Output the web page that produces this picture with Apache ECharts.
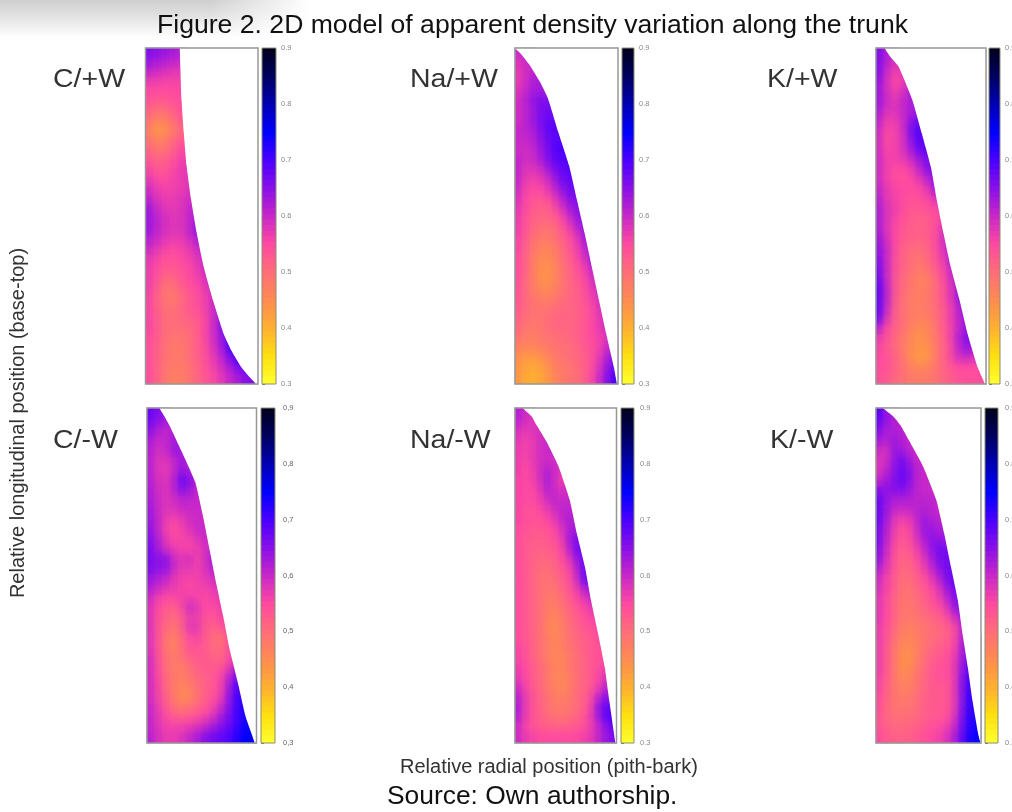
<!DOCTYPE html>
<html><head><meta charset="utf-8">
<style>html,body{margin:0;padding:0;background:#fff}#c{width:1012px;height:812px}</style>
<script src="https://cdn.jsdelivr.net/npm/echarts@6/dist/echarts.min.js"></script></head>
<body><div id="c"></div>
<script>
// apparent density x 100; rows top to base, columns pith to bark
const cPlusW=[
[66,65,64,63,62],[64,63,62,61,60],[61,60,59,58,58],[57,57,56,56,56],[55,55,55,55,55,55],[54,53,53,54,55,55],
[52,50,50,52,54,55],[50,47,47,50,53,54],[48,43,44,48,50,53],[50,46,47,50,53,54],[52,49,49,52,55,56],[54,51,52,54,56,57],
[56,53,53,55,57,58],[58,55,55,56,57,58],[60,57,56,56,57,58,59],[62,58,57,57,58,59,60],[64,60,58,57,58,60,62,62],[64,61,59,58,58,60,63,64],
[64,61,59,58,58,60,64,66],[62,60,58,57,57,59,62,64,64],[60,58,56,55,56,57,59,62,62],[58,56,54,54,55,56,58,60,62,62],[57,55,53,53,54,55,57,59,62,62],[57,54,51,51,53,55,56,58,61,62,62],
[57,53,49,49,52,54,55,57,60,62,63],[56,52,49,48,50,53,54,56,59,62,63,63],[56,52,50,49,51,53,54,56,59,63,65,65],[56,53,50,50,51,52,53,55,59,64,67,67],[56,53,50,50,50,51,52,55,59,64,68,70,70],[55,53,50,49,49,50,52,55,59,63,69,72,72],
[55,52,50,48,48,50,52,54,58,62,69,74,74],[55,52,50,48,48,50,52,54,57,60,65,70,72,72],[55,52,49,48,48,49,51,54,56,59,62,66,68,68],[55,52,49,47,47,49,51,53,55,57,60,62,65,66]];
const naPlusW=[
[60,60,60],[58,60,60],[57,59,61,61],[57,59,62,63,63],[58,60,63,63,63],[59,61,64,66,66,66],
[59,61,63,66,67,67,67],[59,61,63,66,68,68,68],[60,61,62,65,68,69,69],[60,60,61,64,67,69,69,69],[60,59,60,63,66,69,70,70],[61,59,59,62,65,68,69,70],
[61,58,58,59,62,66,68,69,69],[61,57,56,57,59,63,67,68,68],[60,56,55,55,57,60,64,67,67,67],[59,55,54,53,54,57,61,65,66,66],[58,55,53,52,52,54,58,62,65,65],[57,54,52,51,51,52,55,59,63,65,65],
[57,54,51,50,49,50,53,56,60,64,64],[56,53,50,48,48,49,52,54,57,62,65,65],[56,52,49,47,46,48,50,53,56,60,64,65],[55,52,48,46,45,47,50,52,55,58,63,65,65],[55,52,48,45,44,46,49,51,54,56,60,63,64],[55,51,48,45,44,46,49,51,53,55,58,62,63],
[54,51,48,46,45,47,49,51,52,54,57,60,62,62],[54,51,49,48,47,48,50,51,52,54,56,58,61,62],[53,51,49,49,49,50,51,51,52,53,55,58,60,61],[52,50,49,49,50,51,52,51,52,53,55,57,60,61],[51,49,48,49,50,51,51,51,52,53,55,57,59,61],[49,48,47,48,49,50,50,51,52,53,55,56,58,61],
[47,46,46,47,48,49,50,50,51,53,54,56,59,63],[45,43,43,44,46,48,49,50,51,52,54,57,61,66],[44,42,41,42,44,47,48,49,50,52,54,58,63,68],[44,41,40,41,43,46,48,49,50,52,55,59,64,70]];
const kPlusW=[
[66,62,60],[66,62,58,60],[66,60,56,58,60],[65,59,55,56,60,61],[64,59,56,58,62,62],[64,60,57,60,63,62,62],
[63,58,58,60,62,64,64],[62,56,57,59,64,67,66],[60,55,56,58,66,70,68,66],[60,54,56,58,64,69,69,66],[60,55,56,58,62,67,69,67],[60,56,56,57,59,63,66,66,66],
[60,56,55,55,56,60,64,68,66],[60,56,55,54,55,57,60,64,66,66],[61,57,56,55,55,55,57,61,66,64],[62,57,56,55,54,54,55,57,60,62,62],[63,58,57,55,53,53,54,55,56,60,60],[63,58,56,54,53,52,52,54,55,60,62],
[63,58,55,54,52,52,52,54,57,63,63],[64,59,55,53,52,52,52,54,57,64,64,64],[65,60,55,52,51,50,51,54,57,62,64,64],[66,60,54,52,50,49,50,53,56,61,65,65],[67,60,54,52,50,48,49,52,55,59,64,66,66],[68,60,53,51,49,47,47,50,54,58,63,67,67],
[69,61,53,51,49,47,47,50,53,57,62,67,66],[69,61,53,50,48,47,48,50,53,57,62,68,67,67],[69,60,52,50,48,47,48,50,52,56,60,66,67,67],[68,58,52,50,48,47,47,49,52,56,60,64,66,66],[62,55,52,50,47,45,46,48,52,55,60,63,66,66],[57,54,51,49,46,44,45,48,51,55,61,65,67,65],
[56,53,51,48,46,44,44,47,51,54,60,64,64,62],[55,54,52,49,45,43,43,47,51,54,59,60,59,58],[55,54,52,50,47,46,46,48,51,53,55,55,55,55],[54,53,51,50,48,48,48,49,51,52,54,54,54,55]];
const cMinusW=[
[68,66,64],[67,65,63,63],[65,62,60,62,62],[63,60,60,63,63,62],[62,59,59,64,64,61,61],[62,58,58,60,64,61,61],
[62,58,57,59,65,62,61,61],[62,59,58,60,68,66,61,61],[63,59,58,60,66,64,60,60],[63,60,58,59,61,61,60,60],[64,60,58,58,60,60,60,60,60],[64,61,57,56,57,59,60,60,60],
[65,61,56,54,56,58,60,60,60],[66,62,58,55,56,56,58,60,60,60],[67,63,59,57,56,56,56,59,60,60],[67,64,66,60,57,60,56,58,64,60],[66,64,65,60,57,58,56,58,62,60,60],[64,62,61,58,56,56,56,57,59,60,60],
[62,60,58,57,56,55,56,56,57,59,60],[60,56,55,55,56,57,56,55,56,57,59,59],[59,55,53,52,54,60,58,55,55,56,58,58],[59,54,52,50,52,57,57,54,53,55,57,57],[59,54,51,49,51,58,58,53,52,53,56,56],[59,54,49,47,50,55,56,53,51,48,54,55],
[59,54,49,46,50,54,54,53,51,50,54,56,56],[60,54,50,48,49,52,53,53,52,51,54,57,57],[60,55,50,48,47,50,52,53,53,53,56,62,64],[60,55,51,49,47,49,51,52,53,55,60,66,68],[60,56,51,48,46,47,50,52,53,55,62,69,70],[60,56,52,49,45,46,49,52,54,56,63,70,72,72],
[61,57,53,50,48,49,51,53,55,59,64,70,73,73],[61,58,55,53,52,53,54,56,58,62,66,70,73,74],[61,58,56,56,56,57,58,60,62,65,67,70,74,75],[62,59,57,57,58,60,62,65,67,68,69,72,75,76]];
const naMinusW=[
[62,60,58],[61,59,58,58],[59,57,58,59,59],[58,56,57,59,60,60],[57,56,57,59,60,60,60],[57,55,57,59,60,59,59],
[57,55,56,59,62,60,58],[56,55,56,58,63,60,56,58],[56,55,55,57,62,60,58,60],[56,55,55,56,59,61,60,60],[56,54,54,55,57,59,61,61,61],[56,54,54,54,55,57,60,62,62],
[55,54,53,53,54,55,58,62,63,63],[55,53,53,52,53,54,56,62,66,66],[55,53,52,52,52,53,55,60,66,68],[55,53,52,51,51,52,54,57,63,67,67],[55,53,52,50,50,51,53,55,60,67,68],[55,53,52,50,49,50,52,54,58,66,69,69],
[55,53,52,50,49,49,51,53,56,61,64,64],[55,53,52,50,48,48,50,52,55,57,60,60],[55,53,52,50,48,47,49,51,53,55,57,58],[55,53,52,50,48,46,48,50,52,54,55,57,57],[55,53,52,50,47,45,47,50,51,53,54,55,57],[55,53,52,50,48,46,47,49,51,52,53,54,56],
[56,54,52,50,48,46,47,49,50,52,53,54,55,55],[56,54,52,50,48,46,46,48,50,51,53,54,55,56],[57,55,53,51,49,47,46,48,50,51,53,54,56,58],[58,55,53,51,49,46,46,47,50,51,53,55,58,60],[60,56,53,51,49,47,46,47,50,51,53,56,60,63],[62,57,54,52,50,48,47,48,50,52,54,60,64,66],
[63,57,54,52,50,48,48,49,50,52,55,63,68,68],[62,57,54,52,51,50,49,50,51,53,56,62,68,70],[60,56,54,53,52,52,52,52,53,54,56,60,64,68],[60,57,56,55,55,55,55,55,55,56,57,60,63,66]];
const kMinusW=[
[70,64,62],[68,64,62,60],[66,62,62,62,60],[63,61,64,62,60,60],[60,58,64,64,61,60],[58,59,64,67,64,60,60],
[58,61,64,68,66,61,60],[60,63,65,68,66,61,60,60],[66,64,65,66,64,61,60,60],[68,64,62,62,62,61,61,61,61],[68,64,60,60,60,61,62,61,60],[68,63,58,56,57,60,64,62,61,61],
[67,62,57,54,55,59,64,64,62,62],[67,61,56,53,54,58,62,65,64,64],[66,60,55,52,53,56,60,64,67,66],[65,59,54,51,52,54,58,62,66,67,67],[62,58,54,51,51,53,56,60,64,67,67],[60,56,53,50,50,52,54,57,61,66,68,68],
[59,56,53,50,49,51,53,55,58,63,67,67],[58,55,52,49,49,50,52,54,56,60,65,67],[58,55,52,49,48,50,51,53,54,57,63,66,66],[58,55,52,49,48,49,50,51,52,54,58,63,63],[57,54,51,48,47,48,49,50,51,52,54,60,64],[57,54,50,47,46,47,49,50,51,52,54,60,66,66],
[57,53,49,46,45,47,49,51,52,53,55,61,67,67],[57,53,49,45,44,47,50,52,53,54,56,62,68,68],[57,53,49,45,45,48,50,53,54,54,56,63,69,69],[56,53,49,46,46,49,51,53,54,54,56,64,70,70],[56,52,49,47,47,49,51,53,53,53,56,64,71,71],[55,52,49,48,48,50,52,53,53,53,56,64,71,72],
[55,51,49,49,49,50,52,53,53,53,56,64,72,72],[54,51,50,50,50,51,52,53,53,54,57,65,72,73],[54,52,51,51,51,52,53,54,55,56,59,66,72,74],[55,53,52,52,52,53,54,55,56,58,61,67,73,75]];

// trunk outline: relative height from top, relative radial position of the bark
const edgeCP=[[0,.305],[.06,.31],[.154,.32],[.25,.34],[.35,.365],[.45,.405],[.55,.455],[.652,.518],[.751,.60],[.851,.695],[.90,.763],[.95,.852],[.98,.926],[1,.98]];
const edgeNP=[[0,0],[.015,.05],[.05,.14],[.10,.24],[.15,.32],[.25,.42],[.35,.525],[.45,.60],[.55,.675],[.65,.745],[.75,.815],[.85,.885],[.95,.96],[1,.99]];
const edgeKP=[[0,.08],[.025,.128],[.055,.205],[.154,.33],[.254,.416],[.353,.498],[.453,.553],[.552,.614],[.652,.68],[.751,.76],[.851,.833],[.95,.924],[1,.99]];
const edgeCM=[[0,.115],[.025,.16],[.055,.21],[.125,.31],[.22,.44],[.32,.51],[.42,.57],[.52,.63],[.62,.695],[.72,.755],[.82,.83],[.92,.90],[1,.985]];
const edgeNM=[[0,.08],[.025,.165],[.05,.21],[.10,.31],[.175,.43],[.275,.54],[.375,.61],[.475,.69],[.575,.75],[.675,.82],[.775,.885],[.875,.93],[1,.99]];
const edgeKM=[[0,.07],[.025,.165],[.05,.23],[.10,.32],[.175,.45],[.275,.575],[.375,.65],[.475,.715],[.575,.78],[.675,.825],[.775,.875],[.875,.92],[.975,.975],[1,.995]];

const scaleLevels=[.30,.31,.32,.33,.34,.35,.36,.37,.38,.39,.40,.41,.42,.43,.44,.45,.46,.47,.48,.49,.50,.51,.52,.53,.54,.55,.56,.57,.58,.59,.60,.61,.62,.63,.64,.65,.66,.67,.68,.69,.70,.71,.72,.73,.74,.75,.76,.77,.78,.79,.80,.81,.82,.83,.84,.85,.86,.87,.88,.89,.90];
const scaleColors=['#ffff30','#ffe010','#ffb030','#ff8c50','#ff6e78','#ff4aa0','#c828c8','#8a10e8','#4a00ff','#0000ff','#0000b4','#000060','#00001e'];

const panels=[
 {name:'C/+W', rows:cPlusW, edge:edgeCP, x:[145.5,258], bar:[262,276], y:[48,384], nameX:53, nameY:80, margin:5, tc:'#888'},
 {name:'Na/+W',rows:naPlusW,edge:edgeNP, x:[515,618],   bar:[622,634], y:[48,384], nameX:410,nameY:80, margin:5, tc:'#888'},
 {name:'K/+W', rows:kPlusW, edge:edgeKP, x:[876,986],   bar:[989,1000],y:[48,384], nameX:767,nameY:80, margin:5, tc:'#888'},
 {name:'C/-W', rows:cMinusW,edge:edgeCM, x:[147,256.5], bar:[261,275], y:[408,743],nameX:53, nameY:441,margin:8, tc:'#666', comma:true},
 {name:'Na/-W',rows:naMinusW,edge:edgeNM,x:[515,616.5], bar:[621,634], y:[408,743],nameX:410,nameY:441,margin:6, tc:'#888'},
 {name:'K/-W', rows:kMinusW,edge:edgeKM, x:[876,981],   bar:[985,998], y:[408,743],nameX:770,nameY:441,margin:7, tc:'#888'}
];
const font='"Liberation Sans",Arial,sans-serif';
const grid=[],xAxis=[],yAxis=[],series=[],colored=[],graphic=[];
const cols=[0,1,2,3,4,5,6,7,8,9,10,11,12,13];
panels.forEach(function(p){
  const rowsIdx=p.rows.map(function(_,i){return i;});
  const base=grid.length;
  const rect=function(r,y){return {left:r[0],width:r[1]-r[0],top:y[0],height:y[1]-y[0],containLabel:false,outerBoundsMode:'none'};};
  grid.push(rect(p.x,p.y),rect(p.x,p.y),rect(p.bar,p.y));
  const cellR=(p.x[1]-p.x[0])/14*1.9;
  // heat cells
  xAxis.push({gridIndex:base,type:'category',data:cols,show:false});
  yAxis.push({gridIndex:base,type:'category',data:rowsIdx,inverse:true,show:false});
  const cells=[];
  p.rows.forEach(function(row,r){row.forEach(function(v,c){cells.push([c,r,v/100]);});});
  colored.push(series.length);
  series.push({type:'heatmap',xAxisIndex:base,yAxisIndex:base,data:cells,progressive:0,emphasis:{disabled:true},silent:true});
  // soft blend of each cell into its neighbours
  colored.push(series.length);
  series.push({type:'custom',xAxisIndex:base,yAxisIndex:base,silent:true,clip:true,z:3,data:cells,progressive:0,encode:{x:0,y:1},
    renderItem:function(params,api){
      const c=api.coord([api.value(0),api.value(1)]);
      const col=api.visual('color');
      return {type:'circle',shape:{cx:c[0],cy:c[1],r:cellR},style:{fill:{type:'radial',x:.5,y:.5,r:.5,colorStops:[
        {offset:0,color:echarts.color.modifyAlpha(col,.55)},{offset:1,color:echarts.color.modifyAlpha(col,0)}]}}};
    }});
  // white area outside the bark
  xAxis.push({gridIndex:base+1,type:'value',min:0,max:1,show:false});
  yAxis.push({gridIndex:base+1,type:'value',min:0,max:1,inverse:true,show:false});
  series.push({type:'custom',xAxisIndex:base+1,yAxisIndex:base+1,silent:true,z:5,clip:true,data:[[0,0]],
    renderItem:function(params,api){
      const e=p.edge, n=e.length-1;
      const pts=[api.coord([e[0][1],-.04])].concat(e.map(function(q){return api.coord([q[1],q[0]]);}));
      pts.push(api.coord([e[n][1]+.03,1.04]),api.coord([1.6,1.04]),api.coord([1.6,-.04]));
      return {type:'polygon',shape:{points:pts,smooth:.15},style:{fill:'#fff'}};
    }});
  series.push({type:'custom',xAxisIndex:base+1,yAxisIndex:base+1,silent:true,z:6,clip:false,data:[[0,0]],
    renderItem:function(params,api){
      const o=api.coord([0,0]),a=api.coord([1,1]);
      return {type:'rect',shape:{x:o[0],y:o[1],width:a[0]-o[0],height:a[1]-o[1]},style:{fill:'none',stroke:'#989898',lineWidth:1.5}};
    }});
  // colour scale with ticks
  xAxis.push({gridIndex:base+2,type:'value',min:0,max:1,show:false});
  yAxis.push({gridIndex:base+2,type:'value',min:.3,max:.9,interval:.1,position:'right',
    axisLine:{show:false},splitLine:{show:false},
    axisTick:{show:true,length:3,lineStyle:{color:'#777',width:1}},
    axisLabel:{show:true,fontSize:7.5,color:p.tc,margin:p.margin,fontFamily:font,
      formatter:function(v){const s=v.toFixed(1);return p.comma?s.replace('.',','):s;}}});
  colored.push(series.length);
  series.push({type:'custom',xAxisIndex:base+2,yAxisIndex:base+2,silent:true,clip:true,
    encode:{x:0,y:1},data:scaleLevels.map(function(l){return [0,l,l];}),
    renderItem:function(params,api){
      const l=api.value(1);
      const t=api.coord([0,l+.006]),b=api.coord([1,l-.006]);
      return {type:'rect',shape:{x:t[0],y:t[1],width:b[0]-t[0],height:b[1]-t[1]},style:{fill:api.visual('color')}};
    }});
  series.push({type:'custom',xAxisIndex:base+2,yAxisIndex:base+2,silent:true,z:5,clip:false,data:[[0,.3]],
    renderItem:function(params,api){
      const t=api.coord([0,.9]),b=api.coord([1,.3]);
      return {type:'rect',shape:{x:t[0],y:t[1],width:b[0]-t[0],height:b[1]-t[1]},style:{fill:'none',stroke:'#8c8c70',lineWidth:1}};
    }});
  graphic.push({type:'text',x:p.nameX,y:p.nameY,scaleX:1.14,z:10,style:{text:p.name,font:'25px '+font,fill:'#333',verticalAlign:'middle'}});
});
// fading grey band at the page's top left corner
graphic.push({type:'rect',left:0,top:0,z:-2,shape:{width:310,height:38},style:{fill:{type:'linear',x:0,y:0,x2:0,y2:1,colorStops:[{offset:0,color:'#cfcfcf'},{offset:.35,color:'#dedede'},{offset:1,color:'#ffffff'}]}}});
graphic.push({type:'rect',left:210,top:0,z:-1,shape:{width:100,height:38},style:{fill:{type:'linear',x:0,y:0,x2:1,y2:0,colorStops:[{offset:0,color:'rgba(255,255,255,0)'},{offset:1,color:'rgba(255,255,255,1)'}]}}});
graphic.push({type:'text',x:18,y:423,rotation:Math.PI/2,z:10,style:{text:'Relative longitudinal position (base-top)',font:'20px '+font,fill:'#333',align:'center',verticalAlign:'middle'}});
graphic.push({type:'text',x:400,y:767,z:10,style:{text:'Relative radial position (pith-bark)',font:'20px '+font,fill:'#333',verticalAlign:'middle'}});
graphic.push({type:'text',x:387,y:797,z:10,style:{text:'Source: Own authorship.',font:'26.4px '+font,fill:'#111',verticalAlign:'middle'}});

const chart=echarts.init(document.getElementById('c'),null,{renderer:'canvas'});
chart.setOption({
  animation:false,backgroundColor:'#fff',tooltip:{show:false},
  title:{text:'Figure 2. 2D model of apparent density variation along the trunk',left:157,top:12,padding:0,
    textStyle:{fontFamily:font,fontSize:26.6,fontWeight:'normal',color:'#111'}},
  grid:grid,xAxis:xAxis,yAxis:yAxis,
  visualMap:{type:'continuous',show:false,min:.3,max:.9,dimension:2,seriesIndex:colored,inRange:{color:scaleColors}},
  graphic:graphic,series:series
});
</script></body></html>
